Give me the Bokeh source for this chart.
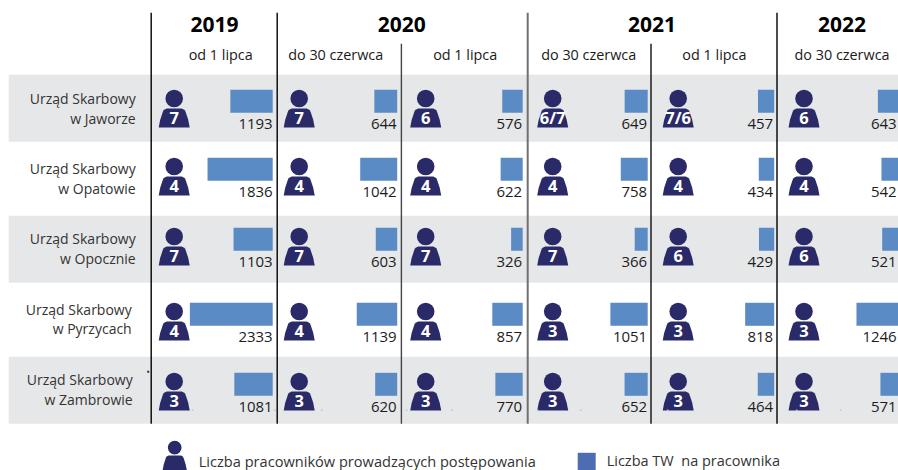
from bokeh.plotting import figure
from bokeh.models import Range1d
from bokeh.core.properties import value
from bokeh.embed import file_html
from bokeh.resources import INLINE

# ---------- data ----------
years = ["2019", "2020", "2021", "2022"]
periods = ["od 1 lipca", "do 30 czerwca", "od 1 lipca", "do 30 czerwca", "od 1 lipca", "do 30 czerwca"]
offices = [
    ("Urząd Skarbowy", "w Jaworze"),
    ("Urząd Skarbowy", "w Opatowie"),
    ("Urząd Skarbowy", "w Opocznie"),
    ("Urząd Skarbowy", "w Pyrzycach"),
    ("Urząd Skarbowy", "w Zambrowie"),
]
staff_jawor = ["7", "7", "6", "6/7", "7/6", "6"]
staff_opatow = ["4", "4", "4", "4", "4", "4"]
staff_opoczno = ["7", "7", "7", "7", "6", "6"]
staff_pyrzyce = ["4", "4", "4", "3", "3", "3"]
staff_zambrow = ["3", "3", "3", "3", "3", "3"]
tw_jawor = [1193, 644, 576, 649, 457, 643]
tw_opatow = [1836, 1042, 622, 758, 434, 542]
tw_opoczno = [1103, 603, 326, 366, 429, 521]
tw_pyrzyce = [2333, 1139, 857, 1051, 818, 1246]
tw_zambrow = [1081, 620, 770, 652, 464, 571]
legend_staff = "Liczba pracowników prowadzących postępowania"
legend_tw = "Liczba TW\u00a0 na pracownika"

staff = [staff_jawor, staff_opatow, staff_opoczno, staff_pyrzyce, staff_zambrow]
tw = [tw_jawor, tw_opatow, tw_opoczno, tw_pyrzyce, tw_zambrow]

# ---------- layout ----------
PX_PER_UNIT = 0.0355
row_top = [90, 158, 228, 303, 373]
label_right = [136, 136, 136, 132, 133]
label_y = [(99, 118.5), (169, 189), (239, 258.5), (310, 329), (380, 400)]
bands = [(75, 142), (216, 283), (357, 424)]
person_cx = [174.5, 299.5, 426, 553, 678.5, 804.3]
bar_right = [273, 397.5, 523, 648, 774.5, 901]
year_cx = [214.7, 402, 652.3, 842.3]
period_cx = [221, 336, 465.5, 589, 714.7, 842.3]
value_right = [273, 397, 522.5, 647.5, 773.5, 897]
speck_x = [193, 275, 322, 407, 452, 538, 581, 668, 797, 841]

NAVY = "#2a2a68"
BAR = "#5b8bc4"
BAND = "#e6e7e9"
FONT = "Open Sans"

p = figure(width=898, height=470, output_backend="svg", toolbar_location=None,
           x_range=Range1d(0.8, 898.8), y_range=Range1d(470.7, 0.7), min_border=0,
           outline_line_color=None, background_fill_color="white",
           border_fill_color="white", x_axis_location=None, y_axis_location=None)
p.grid.visible = False

# bands
p.quad(left=9, right=899, top=[b[0] for b in bands], bottom=[b[1] for b in bands],
       fill_color=BAND, line_color=None)

# separators
for x, y0, color, w in [(151.5, 13, "#000000", 1.4), (277.5, 13, "#000000", 1.4),
                        (401.7, 44, "#444444", 1.4), (528, 13, "#707070", 2),
                        (651.3, 44, "#111111", 1.4), (777.3, 13, "#000000", 1.4)]:
    p.segment(x0=x, x1=x, y0=y0, y1=424, line_color=color, line_width=w)


def person(cx, top, s=1.0):
    body_x = [-15.5, -14, -11.5, -10.8, -9.5, -7.5, 7.5, 9.5, 10.8, 11.5, 14, 15.5]
    body_y = [37.7, 30, 22.5, 20.8, 19.6, 18.8, 18.8, 19.6, 20.8, 22.5, 30, 37.7]
    p.patch([cx + s * a for a in body_x], [top + s * b for b in body_y],
            fill_color=NAVY, line_color=None)
    p.circle(x=[cx], y=[top + s * 8.7], radius=8.8 * s, fill_color=NAVY, line_color=None)


for r in range(5):
    top = row_top[r]
    # row label
    for line, y in zip(offices[r], label_y[r]):
        p.text(x=[label_right[r]], y=[y], text=[line], text_align="right", text_baseline="middle",
               text_font=value(FONT), text_font_size="14px", text_color="#333333")
    # bars
    p.hbar(y=[top + 11.5] * 6, height=23,
           left=[bar_right[c] - tw[r][c] * PX_PER_UNIT for c in range(6)],
           right=bar_right, fill_color=BAR, line_color=None)
    # value labels
    p.text(x=value_right, y=[top + 34.5] * 6, text=[str(v) for v in tw[r]], text_align="right",
           text_baseline="middle", text_font=value(FONT), text_font_size="15px", text_color="#1c1c1c")
    # staff icons
    for c in range(6):
        person(person_cx[c], top)
    p.text(x=person_cx, y=[top + 28] * 6, text=staff[r], text_align="center", text_baseline="middle",
           text_font=value(FONT), text_font_size="16.5px", text_font_style="bold", text_color="white")

# headers
p.text(x=year_cx, y=[24.5] * 4, text=years, text_align="center", text_baseline="middle",
       text_font=value(FONT), text_font_size="21px", text_font_style="bold", text_color="black")
p.text(x=period_cx, y=[54.5] * 6, text=periods, text_align="center", text_baseline="middle",
       text_font=value(FONT), text_font_size="14.4px", text_color="#1a1a1a")

# stray marks in the source
p.scatter(x=[148.5], y=[372], size=2, marker="square", fill_color=NAVY, line_color=None)
p.scatter(x=speck_x, y=[410.5] * len(speck_x), size=1.6, marker="square",
          fill_color="#c4c5c8", line_color=None)

# legend
person(175, 441, 0.78)
p.text(x=[199], y=[461], text=[legend_staff], text_baseline="middle", text_font=value(FONT),
       text_font_size="14.6px", text_color="#333333")
p.quad(left=578, right=596, top=453, bottom=471, fill_color="#4d6cb2", line_color=None)
p.text(x=[607], y=[461], text=[legend_tw], text_baseline="middle", text_font=value(FONT),
       text_font_size="14.5px", text_color="#333333")

open("out.html", "w").write(file_html(p, INLINE))
